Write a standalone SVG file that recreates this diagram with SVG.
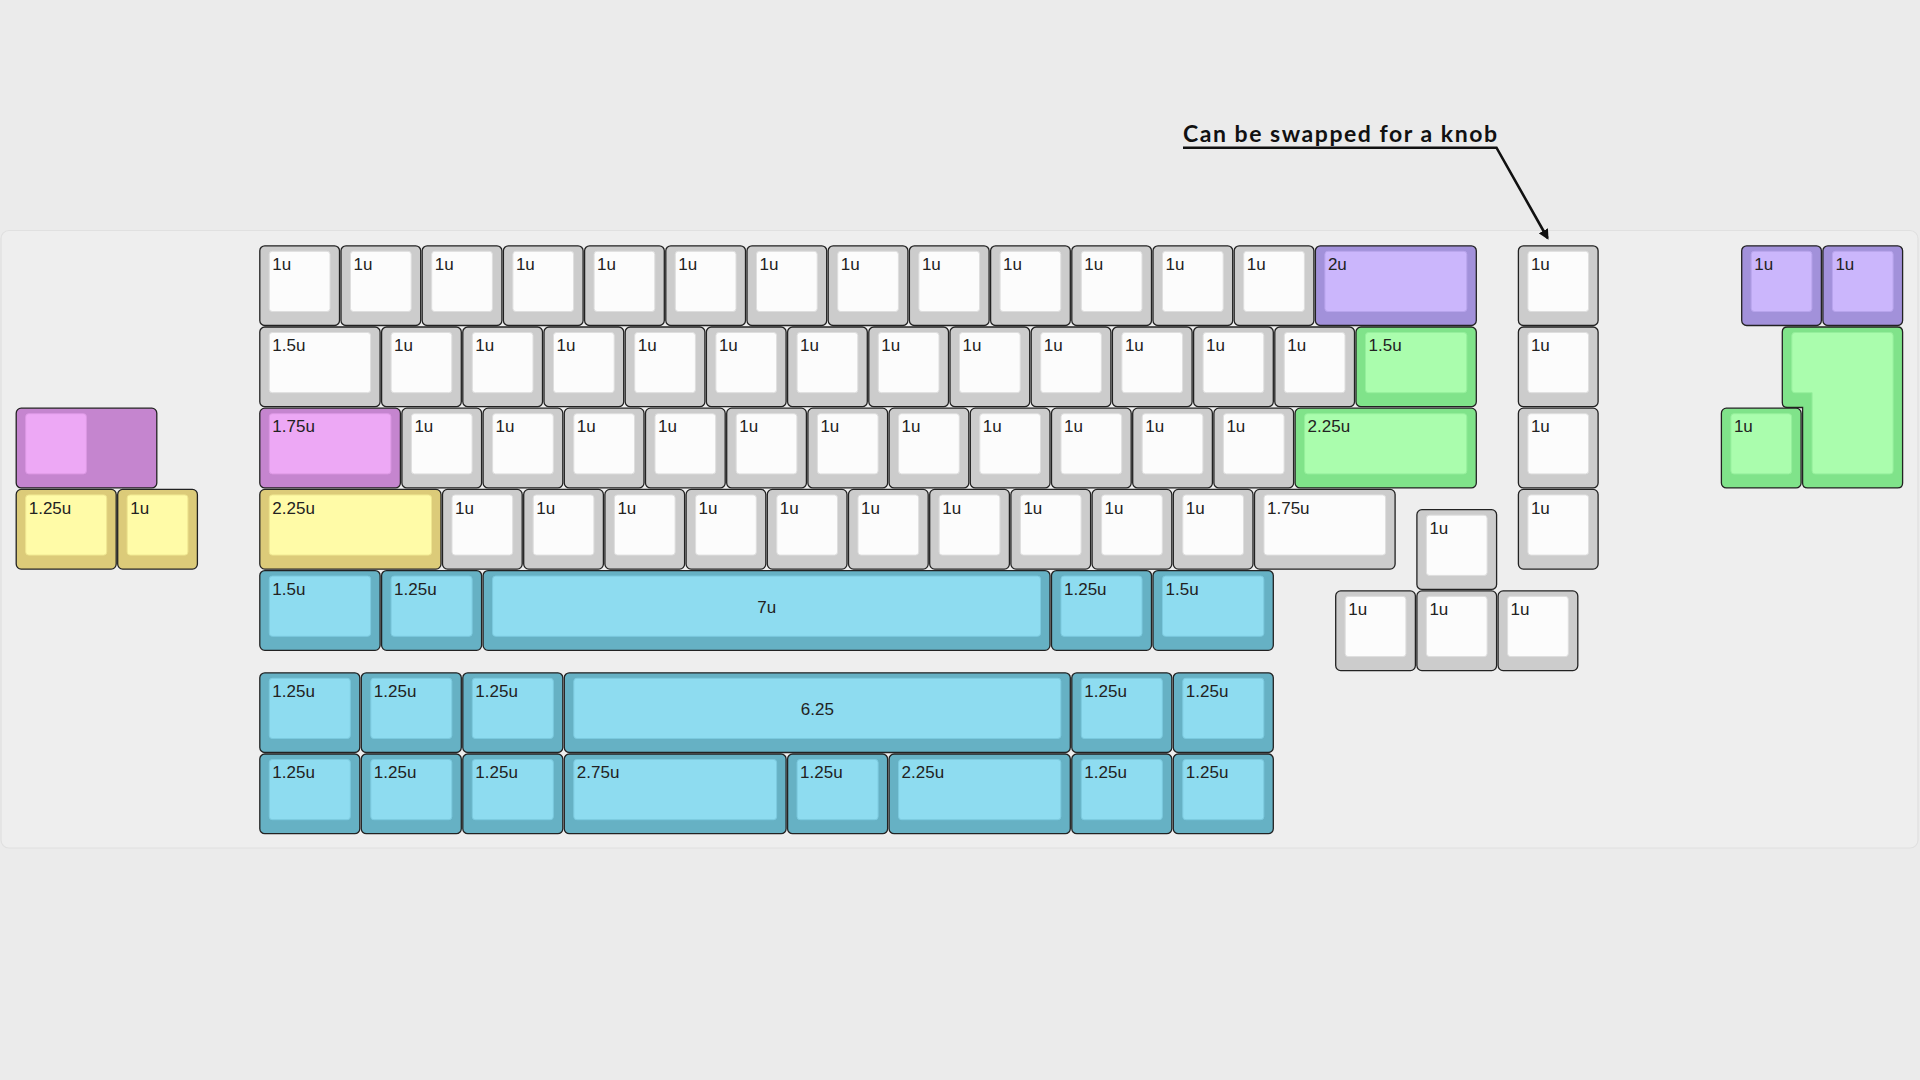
<svg xmlns="http://www.w3.org/2000/svg" width="1920" height="1080" viewBox="0 0 1920 1080">
<style>
.o{stroke:#222;stroke-width:1.3;fill:var(--o)}
.i{stroke-width:1;fill:var(--i);stroke:var(--s)}
.w{--o:#cccccc;--i:#fcfcfc;--s:#dedede}
.p{--o:#a291da;--i:#cbb6fc;--s:#b8a4ec}
.g{--o:#80e38a;--i:#aafdad;--s:#95ef9c}
.m{--o:#c585cf;--i:#eda8f5;--s:#dc98e4}
.y{--o:#dccb79;--i:#fffba7;--s:#eee58f}
.b{--o:#66b1c4;--i:#8edcf0;--s:#7ccadf}
.l{font-family:"Liberation Sans",Arial,sans-serif;font-size:17px;fill:#222}
.c{text-anchor:middle}
.note{font-family:Lato,"Noto Sans",sans-serif;font-weight:700;font-size:23px;fill:#111}
</style>
<defs>
<marker id="ah" viewBox="0 0 10 10" refX="8" refY="5" markerWidth="4" markerHeight="4" orient="auto">
<path d="M0,0 L10,5 L0,10 z" fill="#111"/>
</marker>
<g id="u1"><rect class="o" x="0.5" y="0.5" width="79.7" height="79.7" rx="5"/><rect class="i" x="10" y="6" width="60.7" height="60.2" rx="3"/></g>
<g id="u125"><rect class="o" x="0.5" y="0.5" width="100" height="79.7" rx="5"/><rect class="i" x="10" y="6" width="81" height="60.2" rx="3"/></g>
<g id="u15"><rect class="o" x="0.5" y="0.5" width="120.3" height="79.7" rx="5"/><rect class="i" x="10" y="6" width="101.3" height="60.2" rx="3"/></g>
<g id="u175"><rect class="o" x="0.5" y="0.5" width="140.6" height="79.7" rx="5"/><rect class="i" x="10" y="6" width="121.6" height="60.2" rx="3"/></g>
<g id="u2"><rect class="o" x="0.5" y="0.5" width="160.9" height="79.7" rx="5"/><rect class="i" x="10" y="6" width="141.9" height="60.2" rx="3"/></g>
<g id="u225"><rect class="o" x="0.5" y="0.5" width="181.2" height="79.7" rx="5"/><rect class="i" x="10" y="6" width="162.2" height="60.2" rx="3"/></g>
<g id="u275"><rect class="o" x="0.5" y="0.5" width="221.8" height="79.7" rx="5"/><rect class="i" x="10" y="6" width="202.8" height="60.2" rx="3"/></g>
<g id="u625"><rect class="o" x="0.5" y="0.5" width="506" height="79.7" rx="5"/><rect class="i" x="10" y="6" width="487" height="60.2" rx="3"/></g>
<g id="u7"><rect class="o" x="0.5" y="0.5" width="566.9" height="79.7" rx="5"/><rect class="i" x="10" y="6" width="547.9" height="60.2" rx="3"/></g>
</defs>
<rect width="1920" height="1080" fill="#ebebeb"/>
<rect x="1" y="230.5" width="1917" height="617.5" rx="8" fill="#eeeeee" stroke="#e0e0e0" stroke-width="1.2"/>

<g id="row0">
<g id="r0k0" class="w" transform="translate(259.3,245.3)"><use href="#u1"/><text class="l" x="13" y="24.7">1u</text></g>
<g id="r0k1" class="w" transform="translate(340.5,245.3)"><use href="#u1"/><text class="l" x="13" y="24.7">1u</text></g>
<g id="r0k2" class="w" transform="translate(421.7,245.3)"><use href="#u1"/><text class="l" x="13" y="24.7">1u</text></g>
<g id="r0k3" class="w" transform="translate(502.9,245.3)"><use href="#u1"/><text class="l" x="13" y="24.7">1u</text></g>
<g id="r0k4" class="w" transform="translate(584.1,245.3)"><use href="#u1"/><text class="l" x="13" y="24.7">1u</text></g>
<g id="r0k5" class="w" transform="translate(665.3,245.3)"><use href="#u1"/><text class="l" x="13" y="24.7">1u</text></g>
<g id="r0k6" class="w" transform="translate(746.5,245.3)"><use href="#u1"/><text class="l" x="13" y="24.7">1u</text></g>
<g id="r0k7" class="w" transform="translate(827.7,245.3)"><use href="#u1"/><text class="l" x="13" y="24.7">1u</text></g>
<g id="r0k8" class="w" transform="translate(908.9,245.3)"><use href="#u1"/><text class="l" x="13" y="24.7">1u</text></g>
<g id="r0k9" class="w" transform="translate(990.1,245.3)"><use href="#u1"/><text class="l" x="13" y="24.7">1u</text></g>
<g id="r0k10" class="w" transform="translate(1071.3,245.3)"><use href="#u1"/><text class="l" x="13" y="24.7">1u</text></g>
<g id="r0k11" class="w" transform="translate(1152.5,245.3)"><use href="#u1"/><text class="l" x="13" y="24.7">1u</text></g>
<g id="r0k12" class="w" transform="translate(1233.7,245.3)"><use href="#u1"/><text class="l" x="13" y="24.7">1u</text></g>
<g id="r0k13" class="p" transform="translate(1314.9,245.3)"><use href="#u2"/><text class="l" x="13" y="24.7">2u</text></g>
<g id="knob0" class="w" transform="translate(1517.9,245.3)"><use href="#u1"/><text class="l" x="13" y="24.7">1u</text></g>
<g id="r0p1" class="p" transform="translate(1741.2,245.3)"><use href="#u1"/><text class="l" x="13" y="24.7">1u</text></g>
<g id="r0p2" class="p" transform="translate(1822.4,245.3)"><use href="#u1"/><text class="l" x="13" y="24.7">1u</text></g>
</g>

<g id="row1">
<g id="r1k0" class="w" transform="translate(259.3,326.5)"><use href="#u15"/><text class="l" x="13" y="24.7">1.5u</text></g>
<g id="r1k1" class="w" transform="translate(381.1,326.5)"><use href="#u1"/><text class="l" x="13" y="24.7">1u</text></g>
<g id="r1k2" class="w" transform="translate(462.3,326.5)"><use href="#u1"/><text class="l" x="13" y="24.7">1u</text></g>
<g id="r1k3" class="w" transform="translate(543.5,326.5)"><use href="#u1"/><text class="l" x="13" y="24.7">1u</text></g>
<g id="r1k4" class="w" transform="translate(624.7,326.5)"><use href="#u1"/><text class="l" x="13" y="24.7">1u</text></g>
<g id="r1k5" class="w" transform="translate(705.9,326.5)"><use href="#u1"/><text class="l" x="13" y="24.7">1u</text></g>
<g id="r1k6" class="w" transform="translate(787.1,326.5)"><use href="#u1"/><text class="l" x="13" y="24.7">1u</text></g>
<g id="r1k7" class="w" transform="translate(868.3,326.5)"><use href="#u1"/><text class="l" x="13" y="24.7">1u</text></g>
<g id="r1k8" class="w" transform="translate(949.5,326.5)"><use href="#u1"/><text class="l" x="13" y="24.7">1u</text></g>
<g id="r1k9" class="w" transform="translate(1030.7,326.5)"><use href="#u1"/><text class="l" x="13" y="24.7">1u</text></g>
<g id="r1k10" class="w" transform="translate(1111.9,326.5)"><use href="#u1"/><text class="l" x="13" y="24.7">1u</text></g>
<g id="r1k11" class="w" transform="translate(1193.1,326.5)"><use href="#u1"/><text class="l" x="13" y="24.7">1u</text></g>
<g id="r1k12" class="w" transform="translate(1274.3,326.5)"><use href="#u1"/><text class="l" x="13" y="24.7">1u</text></g>
<g id="r1k13" class="g" transform="translate(1355.5,326.5)"><use href="#u15"/><text class="l" x="13" y="24.7">1.5u</text></g>
<g id="knob1" class="w" transform="translate(1517.9,326.5)"><use href="#u1"/><text class="l" x="13" y="24.7">1u</text></g>
<g id="enterL" class="g" transform="translate(1781.8,326.5)">
<path class="o" d="M5.5,0.5 H115.8 Q120.8,0.5 120.8,5.5 V156.4 Q120.8,161.4 115.8,161.4 H25.8 Q20.8,161.4 20.8,156.4 V81 H5.5 Q0.5,81 0.5,76 V5.5 Q0.5,0.5 5.5,0.5 Z"/>
<path class="i" d="M13,6 H108.3 Q111.3,6 111.3,9 V144.4 Q111.3,147.4 108.3,147.4 H33.3 Q30.3,147.4 30.3,144.4 V66.2 H13 Q10,66.2 10,63.2 V9 Q10,6 13,6 Z"/>
</g>
</g>

<g id="row2">
<g id="left175" class="m" transform="translate(15.7,407.7)"><rect class="o" x="0.5" y="0.5" width="140.6" height="79.7" rx="5"/><rect class="i" x="10" y="6" width="60.7" height="60.2" rx="3"/></g>
<g id="r2k0" class="m" transform="translate(259.3,407.7)"><use href="#u175"/><text class="l" x="13" y="24.7">1.75u</text></g>
<g id="r2k1" class="w" transform="translate(401.4,407.7)"><use href="#u1"/><text class="l" x="13" y="24.7">1u</text></g>
<g id="r2k2" class="w" transform="translate(482.6,407.7)"><use href="#u1"/><text class="l" x="13" y="24.7">1u</text></g>
<g id="r2k3" class="w" transform="translate(563.8,407.7)"><use href="#u1"/><text class="l" x="13" y="24.7">1u</text></g>
<g id="r2k4" class="w" transform="translate(645,407.7)"><use href="#u1"/><text class="l" x="13" y="24.7">1u</text></g>
<g id="r2k5" class="w" transform="translate(726.2,407.7)"><use href="#u1"/><text class="l" x="13" y="24.7">1u</text></g>
<g id="r2k6" class="w" transform="translate(807.4,407.7)"><use href="#u1"/><text class="l" x="13" y="24.7">1u</text></g>
<g id="r2k7" class="w" transform="translate(888.6,407.7)"><use href="#u1"/><text class="l" x="13" y="24.7">1u</text></g>
<g id="r2k8" class="w" transform="translate(969.8,407.7)"><use href="#u1"/><text class="l" x="13" y="24.7">1u</text></g>
<g id="r2k9" class="w" transform="translate(1051,407.7)"><use href="#u1"/><text class="l" x="13" y="24.7">1u</text></g>
<g id="r2k10" class="w" transform="translate(1132.2,407.7)"><use href="#u1"/><text class="l" x="13" y="24.7">1u</text></g>
<g id="r2k11" class="w" transform="translate(1213.4,407.7)"><use href="#u1"/><text class="l" x="13" y="24.7">1u</text></g>
<g id="r2k12" class="g" transform="translate(1294.6,407.7)"><use href="#u225"/><text class="l" x="13" y="24.7">2.25u</text></g>
<g id="knob2" class="w" transform="translate(1517.9,407.7)"><use href="#u1"/><text class="l" x="13" y="24.7">1u</text></g>
<g id="r2g1" class="g" transform="translate(1720.9,407.7)"><use href="#u1"/><text class="l" x="13" y="24.7">1u</text></g>
</g>

<g id="row3">
<g id="left125" class="y" transform="translate(15.7,488.9)"><use href="#u125"/><text class="l" x="13" y="24.7">1.25u</text></g>
<g id="left1" class="y" transform="translate(117.2,488.9)"><use href="#u1"/><text class="l" x="13" y="24.7">1u</text></g>
<g id="r3k0" class="y" transform="translate(259.3,488.9)"><use href="#u225"/><text class="l" x="13" y="24.7">2.25u</text></g>
<g id="r3k1" class="w" transform="translate(442,488.9)"><use href="#u1"/><text class="l" x="13" y="24.7">1u</text></g>
<g id="r3k2" class="w" transform="translate(523.2,488.9)"><use href="#u1"/><text class="l" x="13" y="24.7">1u</text></g>
<g id="r3k3" class="w" transform="translate(604.4,488.9)"><use href="#u1"/><text class="l" x="13" y="24.7">1u</text></g>
<g id="r3k4" class="w" transform="translate(685.6,488.9)"><use href="#u1"/><text class="l" x="13" y="24.7">1u</text></g>
<g id="r3k5" class="w" transform="translate(766.8,488.9)"><use href="#u1"/><text class="l" x="13" y="24.7">1u</text></g>
<g id="r3k6" class="w" transform="translate(848,488.9)"><use href="#u1"/><text class="l" x="13" y="24.7">1u</text></g>
<g id="r3k7" class="w" transform="translate(929.2,488.9)"><use href="#u1"/><text class="l" x="13" y="24.7">1u</text></g>
<g id="r3k8" class="w" transform="translate(1010.4,488.9)"><use href="#u1"/><text class="l" x="13" y="24.7">1u</text></g>
<g id="r3k9" class="w" transform="translate(1091.6,488.9)"><use href="#u1"/><text class="l" x="13" y="24.7">1u</text></g>
<g id="r3k10" class="w" transform="translate(1172.8,488.9)"><use href="#u1"/><text class="l" x="13" y="24.7">1u</text></g>
<g id="r3k11" class="w" transform="translate(1254,488.9)"><use href="#u175"/><text class="l" x="13" y="24.7">1.75u</text></g>
<g id="knob3" class="w" transform="translate(1517.9,488.9)"><use href="#u1"/><text class="l" x="13" y="24.7">1u</text></g>
<g id="up" class="w" transform="translate(1416.4,509.2)"><use href="#u1"/><text class="l" x="13" y="24.7">1u</text></g>
</g>

<g id="row4">
<g id="r4k0" class="b" transform="translate(259.3,570.1)"><use href="#u15"/><text class="l" x="13" y="24.7">1.5u</text></g>
<g id="r4k1" class="b" transform="translate(381.1,570.1)"><use href="#u125"/><text class="l" x="13" y="24.7">1.25u</text></g>
<g id="r4k2" class="b" transform="translate(482.6,570.1)"><use href="#u7"/><text class="l c" x="284.2" y="43.2">7u</text></g>
<g id="r4k3" class="b" transform="translate(1051,570.1)"><use href="#u125"/><text class="l" x="13" y="24.7">1.25u</text></g>
<g id="r4k4" class="b" transform="translate(1152.5,570.1)"><use href="#u15"/><text class="l" x="13" y="24.7">1.5u</text></g>
<g id="left" class="w" transform="translate(1335.2,590.4)"><use href="#u1"/><text class="l" x="13" y="24.7">1u</text></g>
<g id="down" class="w" transform="translate(1416.4,590.4)"><use href="#u1"/><text class="l" x="13" y="24.7">1u</text></g>
<g id="right" class="w" transform="translate(1497.6,590.4)"><use href="#u1"/><text class="l" x="13" y="24.7">1u</text></g>
</g>

<g id="row5">
<g id="r5k0" class="b" transform="translate(259.3,672.3)"><use href="#u125"/><text class="l" x="13" y="24.7">1.25u</text></g>
<g id="r5k1" class="b" transform="translate(360.8,672.3)"><use href="#u125"/><text class="l" x="13" y="24.7">1.25u</text></g>
<g id="r5k2" class="b" transform="translate(462.3,672.3)"><use href="#u125"/><text class="l" x="13" y="24.7">1.25u</text></g>
<g id="r5k3" class="b" transform="translate(563.8,672.3)"><use href="#u625"/><text class="l c" x="253.5" y="43.2">6.25</text></g>
<g id="r5k4" class="b" transform="translate(1071.3,672.3)"><use href="#u125"/><text class="l" x="13" y="24.7">1.25u</text></g>
<g id="r5k5" class="b" transform="translate(1172.8,672.3)"><use href="#u125"/><text class="l" x="13" y="24.7">1.25u</text></g>
</g>

<g id="row6">
<g id="r6k0" class="b" transform="translate(259.3,753.5)"><use href="#u125"/><text class="l" x="13" y="24.7">1.25u</text></g>
<g id="r6k1" class="b" transform="translate(360.8,753.5)"><use href="#u125"/><text class="l" x="13" y="24.7">1.25u</text></g>
<g id="r6k2" class="b" transform="translate(462.3,753.5)"><use href="#u125"/><text class="l" x="13" y="24.7">1.25u</text></g>
<g id="r6k3" class="b" transform="translate(563.8,753.5)"><use href="#u275"/><text class="l" x="13" y="24.7">2.75u</text></g>
<g id="r6k4" class="b" transform="translate(787.1,753.5)"><use href="#u125"/><text class="l" x="13" y="24.7">1.25u</text></g>
<g id="r6k5" class="b" transform="translate(888.6,753.5)"><use href="#u225"/><text class="l" x="13" y="24.7">2.25u</text></g>
<g id="r6k6" class="b" transform="translate(1071.3,753.5)"><use href="#u125"/><text class="l" x="13" y="24.7">1.25u</text></g>
<g id="r6k7" class="b" transform="translate(1172.8,753.5)"><use href="#u125"/><text class="l" x="13" y="24.7">1.25u</text></g>
</g>

<g id="annotation">
<text class="note" x="1183" y="141.5" textLength="314" lengthAdjust="spacing">Can be swapped for a knob</text>
</g>
<g id="connectors">
<path d="M1183,147.7 H1496.5 L1547.5,238" fill="none" stroke="#111" stroke-width="2.6" marker-end="url(#ah)"/>
</g>
</svg>
